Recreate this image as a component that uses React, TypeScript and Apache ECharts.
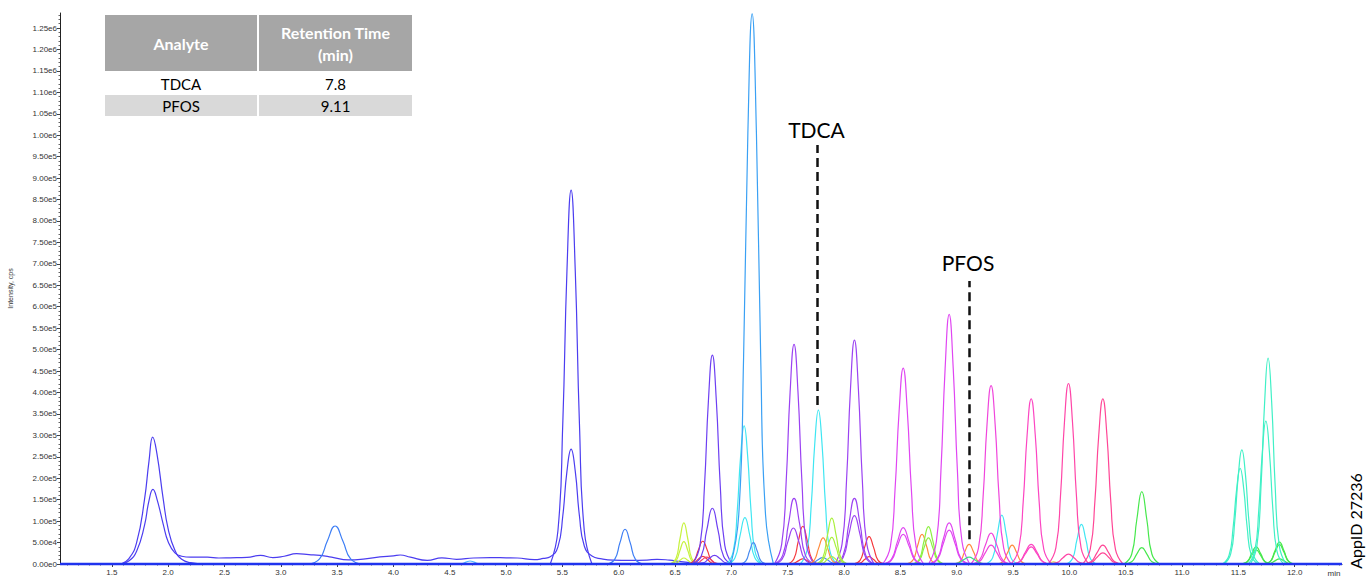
import { useEffect, useRef } from 'react';
import * as echarts from 'echarts';

type Pt = [number, number];

// ---------- axes ----------
const X_MIN = 1.04;
const X_MAX = 12.42;
const Y_MAX = 1285000;
const xTickValues = [1.5, 2.0, 2.5, 3.0, 3.5, 4.0, 4.5, 5.0, 5.5, 6.0, 6.5, 7.0, 7.5, 8.0, 8.5, 9.0, 9.5, 10.0, 10.5, 11.0, 11.5, 12.0];
const yTickValues = [0, 50000, 100000, 150000, 200000, 250000, 300000, 350000, 400000, 450000, 500000, 550000, 600000, 650000, 700000, 750000, 800000, 850000, 900000, 950000, 1000000, 1050000, 1100000, 1150000, 1200000, 1250000];

// ---------- table ----------
const tableHeader = ['Analyte', 'Retention Time', '(min)'];
const tableRows = [['TDCA', '7.8'], ['PFOS', '9.11']];

// ---------- annotations ----------
const annotationNames = ['TDCA', 'PFOS'];
const annotationTimes = [7.763, 9.113];
const annotationFrom = [371000, 58000];
const annotationTo = [977000, 660000];

// ---------- traces (time min, intensity cps) ----------
const indigoTraces: Pt[][] = [
  [[1.58, 0], [1.65, 12000], [1.72, 50000], [1.79, 150000], [1.83, 240000], [1.863, 296000], [1.9, 258000], [1.957, 150000], [2.0, 82000], [2.06, 32000], [2.12, 11000], [2.2, 3000], [2.32, 0]],
  [[5.392, 0], [5.46, 77600], [5.503, 327000], [5.54, 682800], [5.577, 872000], [5.614, 682800], [5.651, 327000], [5.694, 77600], [5.762, 0]],
  [[1.58, 0], [1.65, 7000], [1.72, 30000], [1.79, 90000], [1.83, 148000], [1.865, 174000], [1.9, 152000], [1.957, 92000], [2.0, 52000], [2.06, 26000], [2.12, 18000], [2.2, 16000], [2.35, 16000], [2.45, 14000], [2.55, 14500], [2.7, 15500], [2.82, 20000], [2.93, 15000], [3.03, 18000], [3.14, 24000], [3.25, 22000], [3.35, 20000], [3.45, 16000], [3.6, 9500], [3.75, 12000], [3.88, 16500], [4.0, 19000], [4.06, 21000], [4.15, 16000], [4.3, 8500], [4.43, 14500], [4.56, 11000], [4.71, 14000], [4.86, 15000], [5.0, 14500], [5.1, 14000], [5.25, 10000], [5.33, 13000], [5.392, 17000], [5.46, 40000], [5.503, 112000], [5.54, 216000], [5.577, 268000], [5.614, 216000], [5.651, 112000], [5.694, 42000], [5.762, 18500], [5.85, 12000], [5.95, 9000], [6.1, 8500], [6.25, 9000], [6.34, 11000], [6.45, 9000], [6.55, 5500], [6.68, 2500], [6.85, 0]],
];
const blueTraces: Pt[][] = [
  [[3.24, 0], [3.344, 12000], [3.413, 53800], [3.482, 88600], [3.551, 53800], [3.62, 12000], [3.724, 0]],
  [[5.895, 0], [5.964, 10900], [6.01, 49200], [6.056, 81000], [6.102, 49200], [6.148, 10900], [6.217, 0]],
];
const lightBlueTraces: Pt[][] = [
  [[4.557, 0], [4.61, 950], [4.645, 4250], [4.68, 7000], [4.715, 4250], [4.75, 950], [4.803, 0]],
];
const skyTraces: Pt[][] = [
  [[6.995, 0], [7.065, 114200], [7.108, 481100], [7.146, 1004600], [7.184, 1283000], [7.222, 1004600], [7.26, 481100], [7.303, 114200], [7.373, 0]],
];
const midBlueTraces: Pt[][] = [
  [[7.076, 0], [7.127, 6700], [7.161, 30200], [7.195, 49700], [7.229, 30200], [7.263, 6700], [7.314, 0]],
  [[7.653, 0], [7.72, 2000], [7.765, 9100], [7.81, 15000], [7.855, 9100], [7.9, 2000], [7.967, 0]],
];
const yellowGreenTraces: Pt[][] = [
  [[6.456, 0], [6.508, 13000], [6.543, 58300], [6.578, 96000], [6.613, 58300], [6.648, 13000], [6.7, 0]],
  [[6.456, 0], [6.508, 7000], [6.543, 31600], [6.578, 52000], [6.613, 31600], [6.648, 7000], [6.7, 0]],
  [[6.456, 0], [6.508, 1900], [6.543, 8500], [6.578, 14000], [6.613, 8500], [6.648, 1900], [6.7, 0]],
];
const redTraces: Pt[][] = [
  [[6.606, 0], [6.666, 7200], [6.706, 32200], [6.746, 53000], [6.786, 32200], [6.826, 7200], [6.886, 0]],
  [[6.606, 0], [6.666, 2400], [6.706, 10900], [6.746, 18000], [6.786, 10900], [6.826, 2400], [6.886, 0]],
  [[7.494, 0], [7.554, 11900], [7.594, 53400], [7.634, 88000], [7.674, 53400], [7.714, 11900], [7.774, 0]],
  [[7.494, 0], [7.554, 1600], [7.594, 7300], [7.634, 12000], [7.674, 7300], [7.714, 1600], [7.774, 0]],
  [[8.082, 0], [8.142, 8600], [8.182, 38800], [8.222, 64000], [8.262, 38800], [8.302, 8600], [8.362, 0]],
  [[8.082, 0], [8.142, 2300], [8.182, 10300], [8.222, 17000], [8.262, 10300], [8.302, 2300], [8.362, 0]],
];
const pinkRedTraces: Pt[][] = [
  [[6.64, 0], [6.7, 2200], [6.74, 9700], [6.78, 16000], [6.82, 9700], [6.86, 2200], [6.92, 0]],
];
const violetTraces: Pt[][] = [
  [[6.656, 0], [6.721, 43300], [6.761, 182600], [6.796, 381300], [6.831, 487000], [6.866, 381300], [6.901, 182600], [6.941, 43300], [7.006, 0]],
  [[6.656, 0], [6.731, 17600], [6.781, 78900], [6.831, 130000], [6.881, 78900], [6.931, 17600], [7.006, 0]],
  [[6.675, 0], [6.75, 2700], [6.8, 12100], [6.85, 20000], [6.9, 12100], [6.95, 2700], [7.025, 0]],
];
const cyanTraces: Pt[][] = [
  [[6.959, 0], [7.016, 28700], [7.051, 120800], [7.082, 252100], [7.113, 322000], [7.144, 252100], [7.175, 120800], [7.21, 28700], [7.267, 0]],
  [[6.966, 0], [7.032, 14600], [7.076, 65600], [7.12, 108000], [7.164, 65600], [7.208, 14600], [7.274, 0]],
  [[7.611, 0], [7.671, 32000], [7.708, 134600], [7.74, 281100], [7.772, 359000], [7.804, 281100], [7.836, 134600], [7.873, 32000], [7.933, 0]],
  [[9.26, 0], [9.32, 15400], [9.36, 69200], [9.4, 114000], [9.44, 69200], [9.48, 15400], [9.54, 0]],
  [[9.967, 0], [10.027, 12500], [10.067, 56100], [10.107, 92500], [10.147, 56100], [10.187, 12500], [10.247, 0]],
];
const purpleTraces: Pt[][] = [
  [[7.381, 0], [7.446, 45600], [7.486, 192000], [7.521, 400900], [7.556, 512000], [7.591, 400900], [7.626, 192000], [7.666, 45600], [7.731, 0]],
  [[7.381, 0], [7.456, 20700], [7.506, 92900], [7.556, 153000], [7.606, 92900], [7.656, 20700], [7.731, 0]],
  [[7.375, 0], [7.45, 11300], [7.5, 51000], [7.55, 84000], [7.6, 51000], [7.65, 11300], [7.725, 0]],
  [[7.917, 0], [7.982, 46500], [8.022, 195800], [8.057, 408700], [8.092, 522000], [8.127, 408700], [8.162, 195800], [8.202, 46500], [8.267, 0]],
  [[7.917, 0], [7.992, 20700], [8.042, 92900], [8.092, 153000], [8.142, 92900], [8.192, 20700], [8.267, 0]],
  [[7.917, 0], [7.992, 15300], [8.042, 68600], [8.092, 113000], [8.142, 68600], [8.192, 15300], [8.267, 0]],
];
const orangeTraces: Pt[][] = [
  [[7.674, 0], [7.734, 8200], [7.774, 37000], [7.814, 61000], [7.854, 37000], [7.894, 8200], [7.954, 0]],
  [[8.552, 0], [8.612, 9300], [8.652, 41900], [8.692, 69000], [8.732, 41900], [8.772, 9300], [8.832, 0]],
  [[8.97, 0], [9.03, 6200], [9.07, 27900], [9.11, 46000], [9.15, 27900], [9.19, 6200], [9.25, 0]],
  [[9.352, 0], [9.412, 5900], [9.452, 26700], [9.492, 44000], [9.532, 26700], [9.572, 5900], [9.632, 0]],
];
const yellowTraces: Pt[][] = [
  [[9.75, 0], [9.8, 700], [9.83, 3000], [9.86, 5000], [9.89, 3000], [9.92, 700], [9.97, 0]],
];
const limeTraces: Pt[][] = [
  [[7.751, 0], [7.811, 14400], [7.851, 64900], [7.891, 107000], [7.931, 64900], [7.971, 14400], [8.031, 0]],
  [[7.751, 0], [7.811, 8400], [7.851, 37600], [7.891, 62000], [7.931, 37600], [7.971, 8400], [8.031, 0]],
  [[7.751, 0], [7.811, 2300], [7.851, 10300], [7.891, 17000], [7.931, 10300], [7.971, 2300], [8.031, 0]],
];
const lime2Traces: Pt[][] = [
  [[8.609, 0], [8.669, 11700], [8.709, 52800], [8.749, 87000], [8.789, 52800], [8.829, 11700], [8.889, 0]],
  [[8.609, 0], [8.669, 8200], [8.709, 37000], [8.749, 61000], [8.789, 37000], [8.829, 8200], [8.889, 0]],
];
const magentaTraces: Pt[][] = [
  [[8.343, 0], [8.411, 40700], [8.452, 171400], [8.489, 357800], [8.525, 457000], [8.561, 357800], [8.598, 171400], [8.639, 40700], [8.707, 0]],
  [[8.343, 0], [8.421, 11500], [8.473, 51600], [8.525, 85000], [8.577, 51600], [8.629, 11500], [8.707, 0]],
  [[8.343, 0], [8.421, 9300], [8.473, 41900], [8.525, 69000], [8.577, 41900], [8.629, 9300], [8.707, 0]],
  [[8.751, 0], [8.819, 51800], [8.86, 218300], [8.897, 455700], [8.933, 582000], [8.969, 455700], [9.006, 218300], [9.047, 51800], [9.115, 0]],
  [[8.751, 0], [8.829, 13000], [8.881, 58300], [8.933, 96000], [8.985, 58300], [9.037, 13000], [9.115, 0]],
  [[8.751, 0], [8.829, 10700], [8.881, 48000], [8.933, 79000], [8.985, 48000], [9.037, 10700], [9.115, 0]],
];
const pink1Traces: Pt[][] = [
  [[9.127, 0], [9.193, 37000], [9.234, 156000], [9.269, 325700], [9.305, 416000], [9.341, 325700], [9.376, 156000], [9.417, 37000], [9.484, 0]],
  [[9.127, 0], [9.203, 9700], [9.254, 43700], [9.305, 72000], [9.356, 43700], [9.407, 9700], [9.484, 0]],
  [[9.127, 0], [9.203, 5900], [9.254, 26700], [9.305, 44000], [9.356, 26700], [9.407, 5900], [9.484, 0]],
];
const pink2Traces: Pt[][] = [
  [[9.483, 0], [9.549, 34300], [9.59, 144400], [9.625, 301500], [9.661, 385000], [9.697, 301500], [9.732, 144400], [9.773, 34300], [9.84, 0]],
  [[9.483, 0], [9.559, 6200], [9.61, 27900], [9.661, 46000], [9.712, 27900], [9.763, 6200], [9.84, 0]],
  [[9.483, 0], [9.559, 5400], [9.61, 24300], [9.661, 40000], [9.712, 24300], [9.763, 5400], [9.84, 0]],
];
const pink3Traces: Pt[][] = [
  [[9.814, 0], [9.88, 37500], [9.921, 157900], [9.956, 329600], [9.992, 421000], [10.028, 329600], [10.063, 157900], [10.104, 37500], [10.171, 0]],
  [[9.814, 0], [9.89, 3100], [9.941, 14000], [9.992, 23000], [10.043, 14000], [10.094, 3100], [10.171, 0]],
];
const pink4Traces: Pt[][] = [
  [[10.119, 0], [10.185, 34300], [10.226, 144400], [10.261, 301500], [10.297, 385000], [10.333, 301500], [10.368, 144400], [10.409, 34300], [10.476, 0]],
  [[10.119, 0], [10.195, 5900], [10.246, 26700], [10.297, 44000], [10.348, 26700], [10.399, 5900], [10.476, 0]],
  [[10.119, 0], [10.195, 3500], [10.246, 15800], [10.297, 26000], [10.348, 15800], [10.399, 3500], [10.476, 0]],
];
const greenTraces: Pt[][] = [
  [[10.486, 0], [10.553, 22800], [10.598, 102600], [10.643, 169000], [10.688, 102600], [10.733, 22800], [10.8, 0]],
  [[10.486, 0], [10.553, 5100], [10.598, 23100], [10.643, 38000], [10.688, 23100], [10.733, 5100], [10.8, 0]],
  [[11.518, 0], [11.578, 5400], [11.618, 24300], [11.658, 40000], [11.698, 24300], [11.738, 5400], [11.798, 0]],
  [[11.518, 0], [11.578, 4500], [11.618, 20000], [11.658, 33000], [11.698, 20000], [11.738, 4500], [11.798, 0]],
  [[11.725, 0], [11.785, 6900], [11.825, 31000], [11.865, 51000], [11.905, 31000], [11.945, 6900], [12.005, 0]],
  [[11.725, 0], [11.785, 6100], [11.825, 27300], [11.865, 45000], [11.905, 27300], [11.945, 6100], [12.005, 0]],
  [[11.725, 0], [11.785, 1600], [11.825, 7300], [11.865, 12000], [11.905, 7300], [11.945, 1600], [12.005, 0]],
];
const tealGreenTraces: Pt[][] = [
  [[8.935, 0], [9.01, 2200], [9.06, 9700], [9.11, 16000], [9.16, 9700], [9.21, 2200], [9.285, 0]],
];
const aquaTraces: Pt[][] = [
  [[11.374, 0], [11.432, 23700], [11.468, 99800], [11.5, 208300], [11.531, 266000], [11.563, 208300], [11.594, 99800], [11.63, 23700], [11.689, 0]],
  [[11.359, 0], [11.417, 19800], [11.453, 83600], [11.485, 174600], [11.516, 223000], [11.548, 174600], [11.579, 83600], [11.615, 19800], [11.674, 0]],
  [[11.607, 0], [11.665, 42700], [11.701, 180000], [11.733, 375800], [11.764, 480000], [11.796, 375800], [11.827, 180000], [11.863, 42700], [11.922, 0]],
  [[11.587, 0], [11.645, 29600], [11.681, 124900], [11.713, 260700], [11.744, 333000], [11.776, 260700], [11.807, 124900], [11.843, 29600], [11.902, 0]],
];
const baselineTrace: Pt[] = [[X_MIN, 0], [X_MAX, 0]];

const traceGroups: { traces: Pt[][]; color: string }[] = [
  { traces: indigoTraces, color: '#4b3df0' },
  { traces: blueTraces, color: '#3d7ef5' },
  { traces: lightBlueTraces, color: '#52b8ff' },
  { traces: yellowGreenTraces, color: '#c6f23e' },
  { traces: redTraces, color: '#f5383c' },
  { traces: pinkRedTraces, color: '#f04470' },
  { traces: violetTraces, color: '#6d3ff2' },
  { traces: cyanTraces, color: '#3fe6f2' },
  { traces: skyTraces, color: '#3aa0f4' },
  { traces: midBlueTraces, color: '#4a8cf0' },
  { traces: purpleTraces, color: '#9b42f2' },
  { traces: orangeTraces, color: '#ff8a3d' },
  { traces: yellowTraces, color: '#e8c848' },
  { traces: limeTraces, color: '#aaf03e' },
  { traces: lime2Traces, color: '#8cf040' },
  { traces: magentaTraces, color: '#e046f2' },
  { traces: pink1Traces, color: '#f046dc' },
  { traces: pink2Traces, color: '#fc46c2' },
  { traces: pink3Traces, color: '#ff46a8' },
  { traces: pink4Traces, color: '#ff4696' },
  { traces: tealGreenTraces, color: '#3ed98a' },
  { traces: greenTraces, color: '#46e84c' },
  { traces: aquaTraces, color: '#40f0c6' },
];

const AXIS_FONT = 'Liberation Sans, Arial, sans-serif';
const TABLE_FONT = 'Lato, Carlito, Calibri, sans-serif';

export default function App() {
  const ref = useRef<HTMLDivElement>(null);
  useEffect(() => {
    if (!ref.current) return;
    const chart = echarts.init(ref.current, undefined, { renderer: 'svg' });
    const series: any[] = [];
    traceGroups.forEach((g) => {
      g.traces.forEach((tr) => {
        series.push({
          type: 'line',
          data: tr,
          showSymbol: false,
          symbol: 'none',
          smooth: 0.5,
          silent: true,
          clip: true,
          z: 2,
          lineStyle: { width: 1.2, color: g.color },
          itemStyle: { color: g.color },
        });
      });
    });
    series.push({
      type: 'line',
      data: baselineTrace,
      showSymbol: false,
      symbol: 'none',
      silent: true,
      clip: false,
      z: 3,
      lineStyle: { width: 2.4, color: '#1f33ee' },
      markLine: {
        silent: true,
        symbol: ['none', 'none'],
        label: { show: false },
        lineStyle: { type: [9, 5], width: 2.5, color: '#111111' },
        data: annotationNames.map((n, i) => [
          { name: n, coord: [annotationTimes[i], annotationFrom[i]] },
          { coord: [annotationTimes[i], annotationTo[i]] },
        ]),
      },
    });

    const graphic: any[] = [
      { type: 'rect', shape: { x: 105, y: 15, width: 152, height: 56 }, style: { fill: '#a6a6a6' } },
      { type: 'rect', shape: { x: 259, y: 15, width: 153, height: 56 }, style: { fill: '#a6a6a6' } },
      { type: 'rect', shape: { x: 105, y: 95, width: 152, height: 21 }, style: { fill: '#d9d9d9' } },
      { type: 'rect', shape: { x: 259, y: 95, width: 153, height: 21 }, style: { fill: '#d9d9d9' } },
    ];
    const txt = (text: string, x: number, y: number, size: number, color: string, weight = 'normal', font = TABLE_FONT, rotation = 0) => ({
      type: 'text',
      x,
      y,
      rotation,
      style: {
        text,
        fill: color,
        fontSize: size,
        fontWeight: weight,
        fontFamily: font,
        align: 'center',
        verticalAlign: 'middle',
        textAlign: 'center',
        textVerticalAlign: 'middle',
      },
    });
    graphic.push(txt(tableHeader[0], 181, 43.5, 16, '#ffffff', 'bold'));
    graphic.push(txt(tableHeader[1], 335.5, 32.5, 16, '#ffffff', 'bold'));
    graphic.push(txt(tableHeader[2], 335.5, 54, 16, '#ffffff', 'bold'));
    tableRows.forEach((r, i) => {
      const y = 84 + i * 22;
      graphic.push(txt(r[0], 181, y, 15, '#000000'));
      graphic.push(txt(r[1], 335.5, y, 15, '#000000'));
    });
    graphic.push(txt(annotationNames[0], 816.5, 129, 21, '#000000'));
    graphic.push(txt(annotationNames[1], 968, 262, 21, '#000000'));
    graphic.push(txt('AppID 27236', 1355, 521, 16, '#000000', 'normal', TABLE_FONT, Math.PI / 2));
    graphic.push(txt('min', 1334, 573, 8, '#333333', 'normal', AXIS_FONT));

    chart.setOption({
      animation: false,
      grid: { left: 60, right: 24, top: 13, bottom: 13, outerBoundsMode: 'none', containLabel: false },
      xAxis: {
        type: 'value',
        min: X_MIN,
        max: X_MAX,
        splitNumber: 23,
        axisLine: { show: true, lineStyle: { color: '#222222', width: 1 } },
        axisTick: { show: true, length: 3, customValues: xTickValues, lineStyle: { color: '#444444' } },
        minorTick: { show: true, splitNumber: 5, length: 1.5, lineStyle: { color: '#666666' } },
        axisLabel: {
          customValues: xTickValues,
          formatter: (v: number) => v.toFixed(1),
          fontSize: 8,
          fontFamily: AXIS_FONT,
          color: '#333333',
          margin: 4,
        },
        splitLine: { show: false },
      },
      yAxis: {
        type: 'value',
        min: 0,
        max: Y_MAX,
        interval: 50000,
        name: 'Intensity, cps',
        nameLocation: 'middle',
        nameGap: 46,
        nameTextStyle: { fontSize: 7, fontFamily: AXIS_FONT, color: '#333333' },
        axisLine: { show: true, lineStyle: { color: '#222222', width: 1 } },
        axisTick: { show: true, length: 3, customValues: yTickValues, lineStyle: { color: '#444444' } },
        minorTick: { show: true, splitNumber: 5, length: 1.5, lineStyle: { color: '#666666' } },
        axisLabel: {
          customValues: yTickValues,
          formatter: (v: number) => v.toExponential(2).replace('+', ''),
          fontSize: 8,
          fontFamily: AXIS_FONT,
          color: '#333333',
          margin: 3,
        },
        splitLine: { show: false },
      },
      graphic,
      series,
    });
    return () => chart.dispose();
  }, []);
  return <div ref={ref} style={{ position: 'absolute', left: 0, top: 0, width: 1366, height: 577, background: '#ffffff' }} />;
}
